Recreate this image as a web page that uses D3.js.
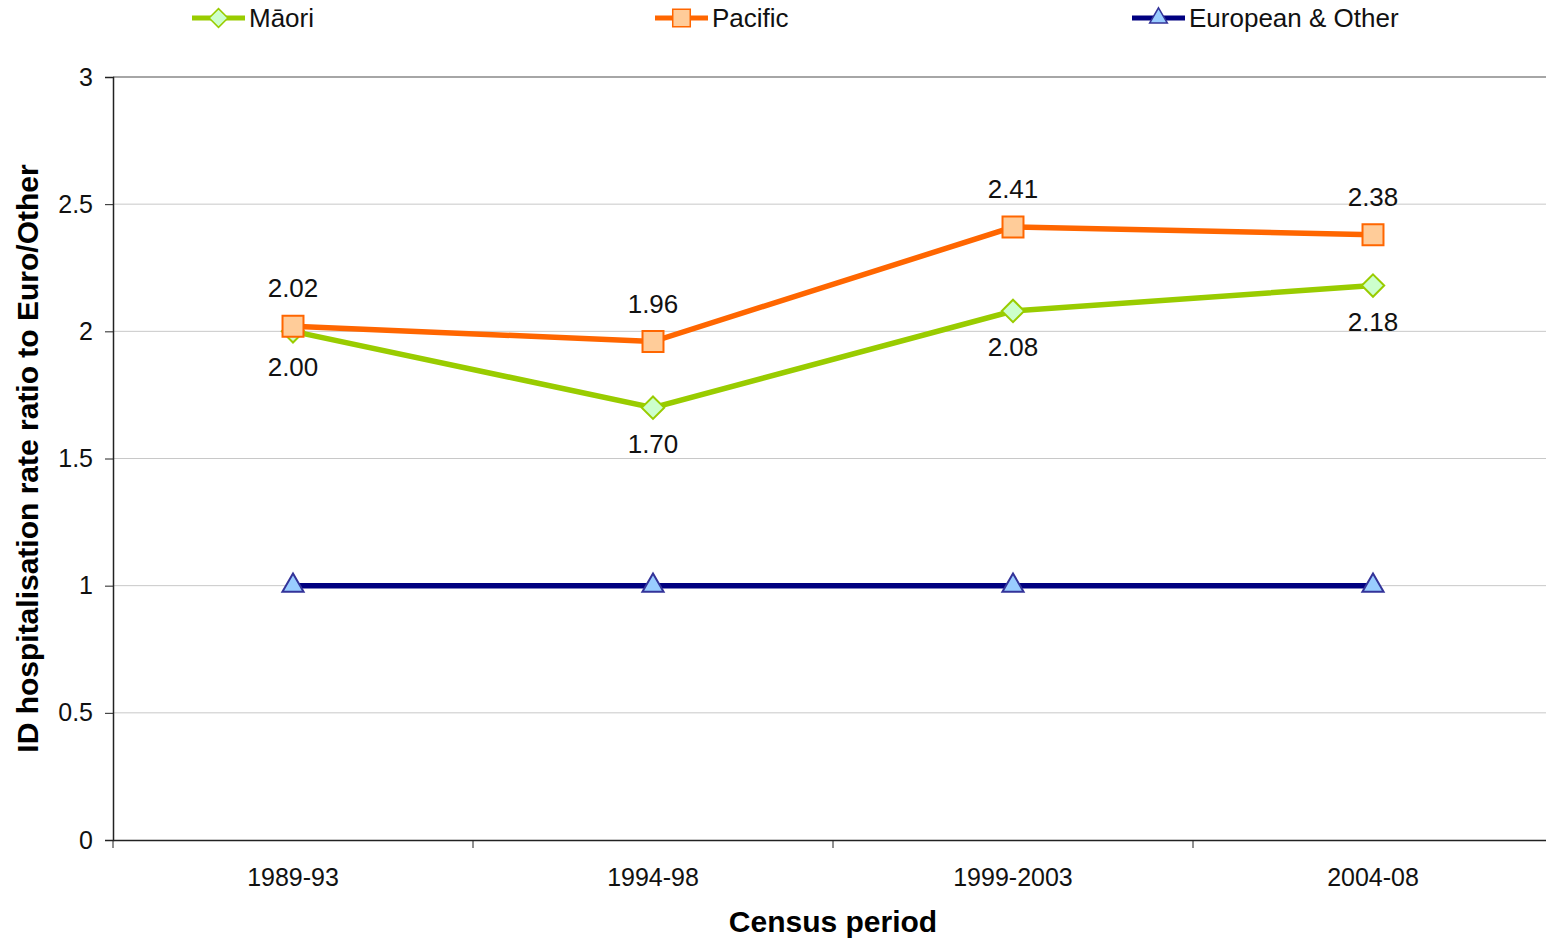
<!DOCTYPE html>
<html>
<head>
<meta charset="utf-8">
<script src="https://cdn.jsdelivr.net/npm/d3@7"></script>
<style>
  body { margin: 0; background: #fff; }
  text { font-family: "Liberation Sans", Arial, sans-serif; }
</style>
</head>
<body>
<svg width="1546" height="940"></svg>
<script>
var periods = ["1989-93", "1994-98", "1999-2003", "2004-08"];
var maori = [2.00, 1.70, 2.08, 2.18];
var pacific = [2.02, 1.96, 2.41, 2.38];
var european = [1, 1, 1, 1];
var yTicks = [0, 0.5, 1, 1.5, 2, 2.5, 3];

var series = [
    {name: "Māori", values: maori, line: "#99cc00", fill: "#ccffcc", stroke: "#99cc00", shape: d3.symbolDiamond2, size: 320, label: "below", legendX: 192},
    {name: "Pacific", values: pacific, line: "#ff6600", fill: "#ffcc99", stroke: "#ff6600", shape: d3.symbolSquare2, size: 560, label: "above", legendX: 655},
    {name: "European & Other", values: european, line: "#000080", fill: "#99ccff", stroke: "#333399", shape: d3.symbolTriangle2, size: 320, label: null, legendX: 1132}
];

var svg = d3.select("svg");

var margin_left = 113;
var plot_right = 1553;
var plot_top = 77;
var plot_bottom = 840;

var xScale = d3.scaleBand().domain(periods).range([margin_left, plot_right]);
var yScale = d3.scaleLinear().domain([0, 3]).range([plot_bottom, plot_top]);

function cx(p) { return xScale(p) + xScale.bandwidth() / 2; }

// gridlines
svg.append("g")
    .selectAll("line")
    .data(yTicks.filter(d => d > 0))
    .join("line")
    .attr("x1", margin_left).attr("x2", plot_right)
    .attr("y1", d => yScale(d)).attr("y2", d => yScale(d))
    .attr("stroke", d => d == 3 ? "#888" : "#c8c8c8")
    .attr("stroke-width", d => d == 3 ? 1.5 : 1);

// y axis
var yAxis = d3.axisLeft(yScale).tickValues(yTicks).tickSize(8).tickPadding(12).tickFormat(d3.format("~g"));
var gy = svg.append("g")
    .attr("transform", "translate(" + margin_left + ",0)")
    .call(yAxis);
gy.select(".domain").attr("stroke", "#222").attr("stroke-width", 1.5);
gy.selectAll(".tick line").attr("stroke", "#222");
gy.selectAll("text").style("font-size", "25px").attr("fill", "#111");

// x axis
var xAxis = d3.axisBottom(xScale).tickSize(0).tickPadding(28);
var gx = svg.append("g")
    .attr("transform", "translate(0," + plot_bottom + ")")
    .call(xAxis);
gx.select(".domain").attr("stroke", "#222").attr("stroke-width", 1.5);
gx.selectAll("text").style("font-size", "25px").attr("fill", "#111");
gx.selectAll(".sep")
    .data(periods)
    .join("line")
    .attr("class", "sep")
    .attr("x1", d => xScale(d)).attr("x2", d => xScale(d))
    .attr("y1", 0).attr("y2", 8)
    .attr("stroke", "#222");

// axis titles
svg.append("text")
    .attr("transform", "translate(38," + ((plot_top + plot_bottom) / 2) + ") rotate(-90)")
    .attr("text-anchor", "middle")
    .style("font-size", "30px")
    .style("font-weight", "bold")
    .text("ID hospitalisation rate ratio to Euro/Other");

svg.append("text")
    .attr("x", 833).attr("y", 932)
    .attr("text-anchor", "middle")
    .style("font-size", "30px")
    .style("font-weight", "bold")
    .text("Census period");

var line = d3.line()
    .x((d, i) => cx(periods[i]))
    .y(d => yScale(d));

// draw Euro first, then Maori, then Pacific on top
[2, 0, 1].forEach(function(idx) {
    var s = series[idx];
    var g = svg.append("g");
    g.append("path")
        .attr("d", line(s.values))
        .attr("fill", "none")
        .attr("stroke", s.line)
        .attr("stroke-width", 5.5);
    g.selectAll("path.marker")
        .data(s.values)
        .join("path")
        .attr("class", "marker")
        .attr("transform", (d, i) => "translate(" + cx(periods[i]) + "," + yScale(d) + ")")
        .attr("d", d3.symbol().type(s.shape).size(s.size))
        .attr("fill", s.fill)
        .attr("stroke", s.stroke)
        .attr("stroke-width", 2);
    if (s.label) {
        g.selectAll("text.lbl")
            .data(s.values)
            .join("text")
            .attr("class", "lbl")
            .attr("x", (d, i) => cx(periods[i]))
            .attr("y", d => yScale(d) + (s.label == "above" ? -29 : 45))
            .attr("text-anchor", "middle")
            .style("font-size", "26px")
            .attr("fill", "#111")
            .text(d => d.toFixed(2));
    }
});

// legend
series.forEach(function(s) {
    var lg = svg.append("g").attr("transform", "translate(" + s.legendX + ",18)");
    lg.append("line")
        .attr("x1", 0).attr("x2", 53)
        .attr("y1", 0).attr("y2", 0)
        .attr("stroke", s.line)
        .attr("stroke-width", 5);
    lg.append("path")
        .attr("transform", "translate(26.5,0)")
        .attr("d", d3.symbol().type(s.shape).size(s.size * 0.7))
        .attr("fill", s.fill)
        .attr("stroke", s.stroke)
        .attr("stroke-width", 1.5);
    lg.append("text")
        .attr("x", 57).attr("y", 9)
        .style("font-size", "26px")
        .attr("fill", "#111")
        .text(s.name);
});
</script>
</body>
</html>
